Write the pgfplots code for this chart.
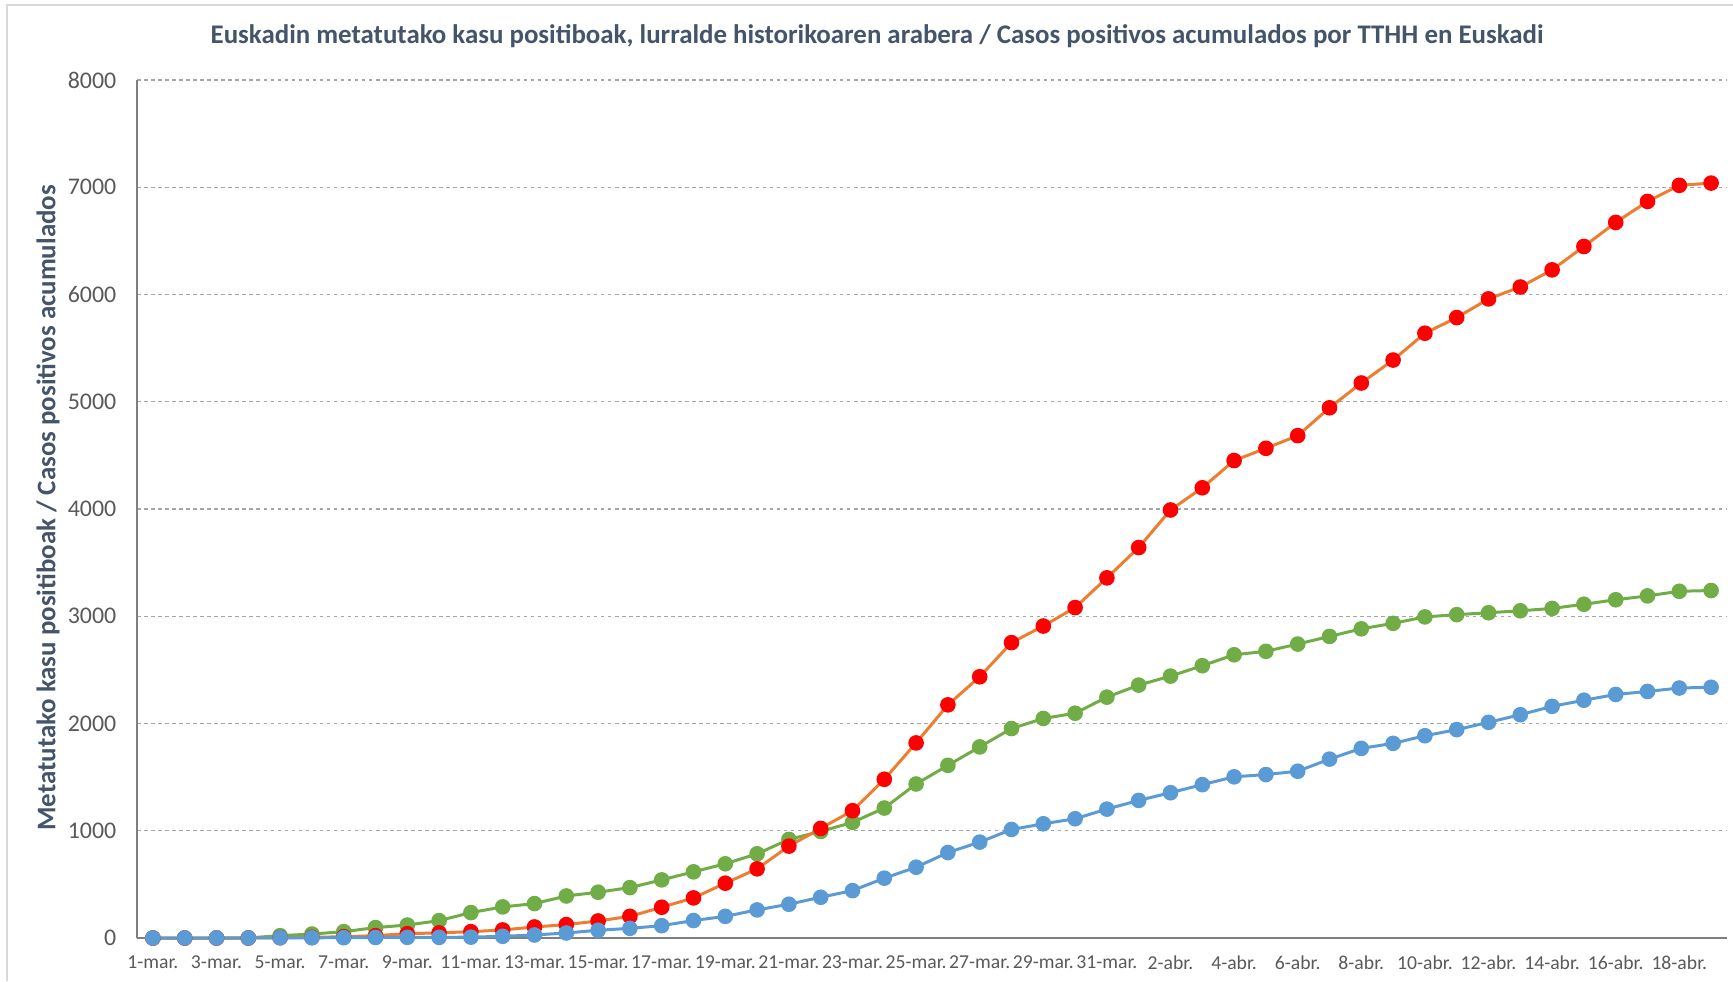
\documentclass[border=0pt]{standalone}
\usepackage{fontspec}
\setmainfont{Carlito}
\usepackage{pgfplots}
\usepackage{pgfplotstable}
\pgfplotsset{compat=1.18}
\definecolor{titlec}{HTML}{44546A}
\definecolor{tickc}{HTML}{595959}
\definecolor{axc}{HTML}{7F7F7F}
\definecolor{gridc}{HTML}{A6A6A6}
\definecolor{cblue}{HTML}{5B9BD5}
\definecolor{cgreen}{HTML}{70AD47}
\definecolor{corange}{HTML}{ED7D31}
\definecolor{cred}{HTML}{FF0000}

\pgfplotstableread{
i ar bi gi
0 0 0 0
1 0 0 0
2 0 0 0
3 0 0 1
4 2 3 22
5 2 6 37
6 3 12 59
7 5 22 97
8 6 40 121
9 6 48 162
10 8 59 237
11 16 75 290
12 28 103 321
13 47 125 392
14 72 159 427
15 90 202 470
16 115 287 542
17 163 374 617
18 202 511 692
19 262 645 785
20 315 857 919
21 380 1022 994
22 442 1187 1078
23 558 1480 1212
24 660 1819 1436
25 797 2174 1610
26 894 2436 1782
27 1012 2754 1953
28 1065 2909 2047
29 1112 3081 2096
30 1202 3358 2246
31 1283 3641 2358
32 1355 3991 2442
33 1430 4198 2539
34 1503 4452 2641
35 1524 4566 2673
36 1555 4684 2741
37 1668 4944 2812
38 1768 5175 2883
39 1815 5389 2934
40 1886 5639 2994
41 1943 5785 3015
42 2011 5959 3033
43 2082 6070 3051
44 2160 6230 3073
45 2217 6448 3112
46 2271 6672 3154
47 2299 6868 3190
48 2331 7018 3233
49 2338 7039 3240
}\data

\begin{document}
\begin{tikzpicture}
\useasboundingbox (-1.37cm,-0.43cm) rectangle (15.96cm,9.38cm);
\draw[black!15, line width=0.4pt] (-1.30cm,-0.43cm) -- (-1.30cm,9.33cm) -- (15.96cm,9.33cm);
\begin{axis}[
  scale only axis,
  width=15.9cm, height=8.58cm,
  xmin=-0.5, xmax=49.5, ymin=0, ymax=8000,
  axis x line=bottom, axis y line=left,
  axis line style={-, draw=axc, line width=0.6pt},
  ytick={0,1000,...,8000},
  ymajorgrids,
  major grid style={draw=gridc, line width=0.4pt, dash pattern=on 1pt off 1pt},
  xtick={0,2,...,48},
  xticklabels={1-mar.,3-mar.,5-mar.,7-mar.,9-mar.,11-mar.,13-mar.,15-mar.,17-mar.,19-mar.,21-mar.,23-mar.,25-mar.,27-mar.,29-mar.,31-mar.,2-abr.,4-abr.,6-abr.,8-abr.,10-abr.,12-abr.,14-abr.,16-abr.,18-abr.},
  major tick length=0pt,
  /pgf/number format/assume math mode=true,
  /pgf/number format/1000 sep={},
  yticklabel style={font=\fontsize{6.8}{8}\selectfont, text=tickc, inner sep=0pt, xshift=-2mm},
  xticklabel style={font=\fontsize{5.6}{7}\selectfont, text=tickc, inner sep=0pt, yshift=-1.7mm},
  clip=false,
]
\addplot[cgreen, line width=0.85pt, mark=*, mark size=0.63mm, mark options={fill=cgreen, draw=cgreen}] table[x=i, y=gi]{\data};
\addplot[corange, line width=0.85pt, mark=*, mark size=0.63mm, mark options={fill=cred, draw=cred}] table[x=i, y=bi]{\data};
\addplot[cblue, line width=0.85pt, mark=*, mark size=0.63mm, mark options={fill=cblue, draw=cblue}] table[x=i, y=ar]{\data};
\end{axis}
\node[font=\bfseries\fontsize{7.65}{9}\selectfont, text=titlec] at (7.40cm, 9.015cm) {Euskadin metatutako kasu positiboak, lurralde historikoaren arabera / Casos positivos acumulados por TTHH en Euskadi};
\node[rotate=90, font=\bfseries\fontsize{7.65}{9}\selectfont, text=titlec] at (-0.89cm, 4.30cm) {Metatutako kasu positiboak / Casos positivos acumulados};
\end{tikzpicture}
\end{document}
